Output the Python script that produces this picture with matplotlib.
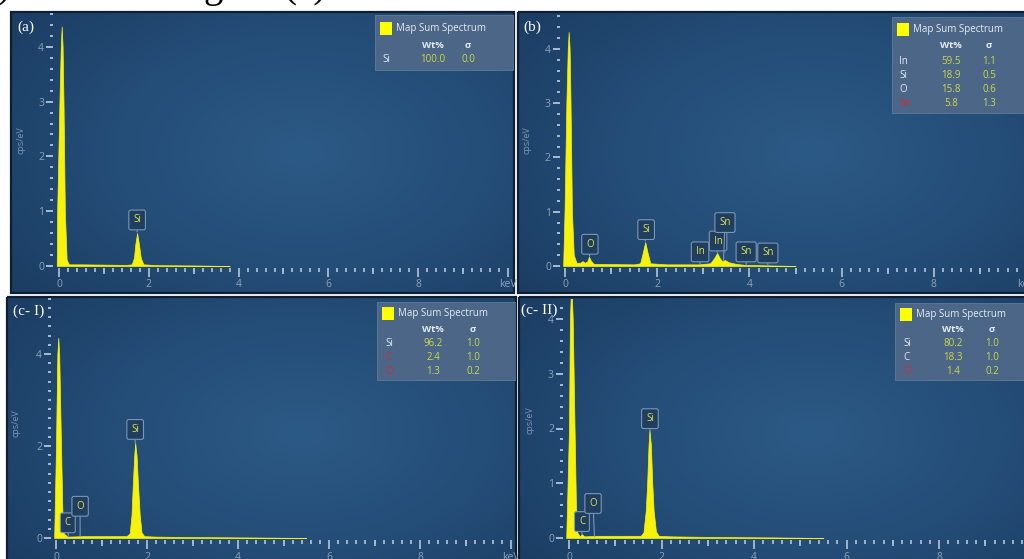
import numpy as np
import matplotlib
matplotlib.use('Agg')
import matplotlib.pyplot as plt
from matplotlib.patches import Rectangle
from matplotlib.ticker import MultipleLocator, FixedLocator, FixedFormatter
from matplotlib.colors import LinearSegmentedColormap

plt.rcParams['font.family'] = ['Open Sans', 'DejaVu Sans']

W, H = 1024, 559

# ---- spectra (keV, cps/eV) ----
kev_a = [-0.05, -0.04, 0.01, 0.04, 0.06, 0.08, 0.10, 0.13, 0.17, 0.22, 0.5, 1.0, 1.5,
         1.62, 1.67, 1.70, 1.74, 1.78, 1.82, 1.88, 2.2, 3.0, 3.8]
cps_a = [0.0, 1.0, 3.0, 4.0, 4.37, 4.0, 3.0, 1.0, 0.12, 0.03, 0.03, 0.025, 0.02,
         0.03, 0.15, 0.4, 0.6, 0.4, 0.15, 0.03, 0.015, 0.01, 0.0]

kev_b = [-0.04, -0.01, 0.03, 0.06, 0.08, 0.10, 0.12, 0.15, 0.19, 0.25, 0.33, 0.38, 0.43,
         0.48, 0.52, 0.56, 0.62, 1.0, 1.5, 1.63, 1.68, 1.74, 1.79, 1.85, 2.2, 2.9, 3.15,
         3.24, 3.30, 3.36, 3.41, 3.47, 3.55, 3.7, 3.9, 4.5, 5.0]
cps_b = [0.0, 1.0, 3.0, 4.0, 4.31, 4.0, 3.0, 1.0, 0.2, 0.06, 0.06, 0.09, 0.06,
         0.08, 0.17, 0.1, 0.04, 0.035, 0.03, 0.05, 0.22, 0.44, 0.25, 0.05, 0.03, 0.03, 0.05,
         0.15, 0.24, 0.14, 0.09, 0.11, 0.07, 0.04, 0.02, 0.01, 0.0]

kev_c1 = [-0.04, -0.02, 0.0, 0.03, 0.05, 0.07, 0.11, 0.14, 0.17, 0.25, 0.6, 1.2, 1.55,
          1.62, 1.66, 1.69, 1.72, 1.74, 1.77, 1.80, 1.84, 1.88, 1.94, 2.2, 3.0, 4.5, 5.5]
cps_c1 = [0.0, 1.0, 2.0, 4.0, 4.35, 4.0, 2.0, 0.6, 0.1, 0.03, 0.04, 0.04, 0.04,
          0.1, 0.5, 1.2, 1.8, 2.07, 1.8, 1.2, 0.5, 0.12, 0.04, 0.03, 0.02, 0.01, 0.0]

kev_c2 = [-0.06, -0.03, 0.0, 0.02, 0.05, 0.08, 0.12, 0.15, 0.18, 0.23, 0.28, 0.33, 0.6,
          1.2, 1.55, 1.61, 1.66, 1.69, 1.72, 1.74, 1.77, 1.80, 1.83, 1.88, 1.94, 2.2, 3.0,
          4.5, 5.5]
cps_c2 = [0.0, 1.0, 2.0, 4.0, 4.7, 4.0, 2.0, 0.6, 0.1, 0.03, 0.07, 0.03, 0.04,
          0.04, 0.04, 0.1, 0.5, 1.0, 1.7, 1.97, 1.7, 1.0, 0.5, 0.12, 0.04, 0.03, 0.02,
          0.01, 0.0]

# peak labels: element, tip keV, tip cps, box keV, box cps
labels_a = [('Si', 1.74, 0.62, 1.74, 0.84)]
labels_b = [('O', 0.53, 0.18, 0.54, 0.40), ('Si', 1.74, 0.46, 1.76, 0.67),
            ('In', 2.93, 0.03, 2.93, 0.26), ('In', 3.30, 0.25, 3.32, 0.46),
            ('Sn', 3.44, 0.11, 3.47, 0.80), ('Sn', 3.93, 0.02, 3.93, 0.26),
            ('Sn', 4.40, 0.02, 4.40, 0.24)]
labels_c1 = [('C', 0.27, 0.03, 0.26, 0.33), ('O', 0.53, 0.04, 0.53, 0.69),
             ('Si', 1.74, 2.07, 1.74, 2.36)]
labels_c2 = [('C', 0.28, 0.07, 0.28, 0.30), ('O', 0.55, 0.03, 0.52, 0.63),
             ('Si', 1.75, 1.97, 1.75, 2.18)]

# quantification tables
elem_a, wt_a, sig_a, red_a = ['Si'], ['100.0'], ['0.0'], [False]
elem_b = ['In', 'Si', 'O', 'Sn']
wt_b = ['59.5', '18.9', '15.8', '5.8']
sig_b = ['1.1', '0.5', '0.6', '1.3']
red_b = [False, False, False, True]
elem_c1, wt_c1, sig_c1, red_c1 = ['Si', 'C', 'O'], ['96.2', '2.4', '1.3'], ['1.0', '1.0', '0.2'], [False, True, True]
elem_c2, wt_c2, sig_c2, red_c2 = ['Si', 'C', 'O'], ['80.2', '18.3', '1.4'], ['1.0', '1.0', '0.2'], [False, False, True]

tick_labels = ['0', '2', '4', '6', '8', 'keV']

YEL = '#f6f20c'
TICK = '#a9bccf'
LAB = '#8ea3ba'
VAL = '#cfd847'
RED = '#d8263e'
WHITE = '#e6ecf2'

panels = [
    dict(name='(a)', bg=(11, 12, 514, 293), x0=59, ppk=44.9, y0=266, ppu=54.8,
         xlim=(-0.13, 10.12), ylim=(-0.03, 4.62), ystep=1,
         kev=kev_a, cps=cps_a, labels=labels_a, tab=(elem_a, wt_a, sig_a, red_a),
         leg=(375, 15, 513, 70), sq=(380, 22), head_y=45, rows_y=59, el_x=382, wt_x=433, sg_x=468,
         name_xy=(17, 27), ylab=(21, 140)),
    dict(name='(b)', bg=(518, 12, 1026, 293), x0=565, ppk=46.1, y0=266, ppu=54.3,
         xlim=(-0.11, 10.12), ylim=(-0.03, 4.66), ystep=1,
         kev=kev_b, cps=cps_b, labels=labels_b, tab=(elem_b, wt_b, sig_b, red_b),
         leg=(892, 17, 1026, 113), sq=(897, 23), head_y=46, rows_y=61, el_x=899, wt_x=951, sg_x=989,
         name_xy=(523, 27), ylab=(527, 140)),
    dict(name='(c- I)', bg=(7, 297, 516, 570), x0=56, ppk=45.5, y0=538, ppu=46.0,
         xlim=(-0.11, 10.12), ylim=(-0.04, 5.2), ystep=2,
         kev=kev_c1, cps=cps_c1, labels=labels_c1, tab=(elem_c1, wt_c1, sig_c1, red_c1),
         leg=(377, 302, 516, 380), sq=(382, 307), head_y=329, rows_y=343, el_x=385, wt_x=433, sg_x=473,
         name_xy=(13, 311), ylab=(16, 423)),
    dict(name='(c- II)', bg=(519, 297, 1026, 570), x0=569, ppk=46.25, y0=538, ppu=54.75,
         xlim=(-0.13, 10.12), ylim=(-0.035, 4.37), ystep=1,
         kev=kev_c2, cps=cps_c2, labels=labels_c2, tab=(elem_c2, wt_c2, sig_c2, red_c2),
         leg=(895, 303, 1026, 380), sq=(900, 308), head_y=330, rows_y=343, el_x=903, wt_x=953, sg_x=992,
         name_xy=(521, 310), ylab=(530, 420)),
]

fig = plt.figure(figsize=(W / 100, H / 100), dpi=100, facecolor='white')

bg_cmap = LinearSegmentedColormap.from_list('bg', ['#2c5a86', '#244d77', '#1b3c62'])


def frac_rect(x0, y0, x1, y1):
    return [x0 / W, 1 - y1 / H, (x1 - x0) / W, (y1 - y0) / H]


for p in panels:
    bx0, by0, bx1, by1 = p['bg']
    bg = fig.add_axes(frac_rect(bx0, by0, bx1, by1))
    bg.set_axis_off()
    yy, xx = np.mgrid[0:1:120j, 0:1:200j]
    r = np.sqrt(((xx - 0.58) / 0.75) ** 2 + ((yy - 0.5) / 0.85) ** 2)
    bg.imshow(r, cmap=bg_cmap, vmin=0, vmax=1, extent=(bx0, bx1, by1, by0),
              aspect='auto', interpolation='bilinear')
    bg.set_xlim(bx0, bx1)
    bg.set_ylim(by1, by0)
    bg.add_patch(Rectangle((bx0, by0), bx1 - bx0, by1 - by0, fill=False,
                           ec='#0e1f33', lw=1.6, clip_on=False))

    # quantification box
    lx0, ly0, lx1, ly1 = p['leg']
    bg.add_patch(Rectangle((lx0, ly0), lx1 - lx0, ly1 - ly0, fc='#4b6686', ec='#5f7b99', lw=0.6))
    sx, sy = p['sq']
    bg.add_patch(Rectangle((sx, sy), 12, 13, fc='#ffff00', ec='none'))
    bg.text(sx + 16, sy + 6.5, 'Map Sum Spectrum', color=WHITE, fontsize=7, va='center')
    bg.text(p['wt_x'], p['head_y'], 'Wt%', color=WHITE, fontsize=6.8, fontweight='bold',
            ha='center', va='center')
    bg.text(p['sg_x'], p['head_y'], 'σ', color=WHITE, fontsize=6.8, fontweight='bold',
            ha='center', va='center')
    elems, wts, sigs, reds = p['tab']
    for i, (e, w, s, rd) in enumerate(zip(elems, wts, sigs, reds)):
        yrow = p['rows_y'] + i * 14
        bg.text(p['el_x'], yrow, e, color=RED if rd else WHITE, fontsize=7, va='center')
        bg.text(p['wt_x'], yrow, w, color=VAL, fontsize=7, ha='center', va='center')
        bg.text(p['sg_x'], yrow, s, color=VAL, fontsize=7, ha='center', va='center')

    bg.text(p['ylab'][0], p['ylab'][1], 'cps/eV', color='#7f95ad', fontsize=6.5,
            rotation=90, ha='center', va='center')

    # spectrum axes placed so that data units land on the pixels
    xl, xr = p['xlim']
    yb, yt = p['ylim']
    left = p['x0'] + xl * p['ppk']
    right = p['x0'] + xr * p['ppk']
    top = p['y0'] - yt * p['ppu']
    bottom = p['y0'] - yb * p['ppu']
    ax = fig.add_axes(frac_rect(left, top, right, bottom))
    ax.set_facecolor('none')
    ax.set_xlim(xl, xr)
    ax.set_ylim(yb, yt)
    for sp in ax.spines.values():
        sp.set_visible(False)

    ax.fill_between(p['kev'], p['cps'], 0, color=YEL, lw=0.5, ec=YEL)

    for el, tx, ty, lx, ly in p['labels']:
        ax.annotate(el, xy=(tx, ty), xytext=(lx, ly), ha='center', va='center',
                    fontsize=7, color='#dfe34a',
                    bbox=dict(boxstyle='round,pad=0.45,rounding_size=0.2', fc='#1f3e60',
                              ec='#7c96b3', lw=0.8),
                    arrowprops=dict(arrowstyle='-', color='#7c96b3', lw=0.8,
                                    shrinkA=0, shrinkB=0),
                    annotation_clip=False)

    ax.xaxis.set_major_locator(FixedLocator([0, 2, 4, 6, 8, 10]))
    ax.xaxis.set_major_formatter(FixedFormatter(tick_labels))
    ax.xaxis.set_minor_locator(MultipleLocator(0.2))
    ax.tick_params(axis='x', which='major', direction='out', length=6.5, width=1.3,
                   color=TICK, labelcolor=LAB, labelsize=7.5, pad=2)
    ax.tick_params(axis='x', which='minor', direction='out', length=3, width=1.3, color=TICK)
    sec = ax.secondary_xaxis('bottom')
    sec.set_xticks([1, 3, 5, 7, 9])
    sec.tick_params(axis='x', direction='out', length=4.5, width=1.3, color=TICK,
                    labelbottom=False)
    sec.spines['bottom'].set_visible(False)

    ax.yaxis.set_major_locator(MultipleLocator(p['ystep']))
    ax.yaxis.set_minor_locator(MultipleLocator(0.2))
    ax.yaxis.set_major_formatter(plt.FuncFormatter(lambda v, pos: '%d' % round(v)))
    ax.tick_params(axis='y', which='major', direction='out', length=5, width=1.4,
                   color=TICK, labelcolor=LAB, labelsize=7.5, pad=1.5)
    ax.tick_params(axis='y', which='minor', direction='out', length=2.5, width=1.4, color=TICK)

    nx, ny = p['name_xy']
    fig.text(nx / W, 1 - ny / H, p['name'], color='white', fontsize=11,
             family=['Liberation Serif', 'DejaVu Serif'], va='center', ha='left')

# caption cut off at the top edge of the picture
for s, xp in [(')', -2), ('g', 203), ('(c)', 283)]:
    fig.text(xp / W, 1 + 3 / H, s, fontsize=28, family=['Liberation Serif', 'DejaVu Serif'],
             color='black', va='baseline', ha='left')

fig.savefig('out.png', dpi=100, facecolor='white')
